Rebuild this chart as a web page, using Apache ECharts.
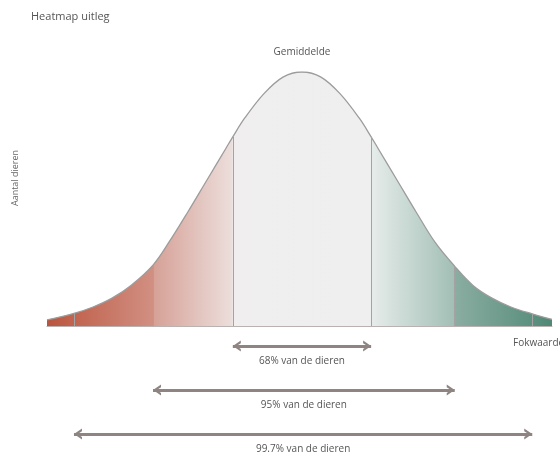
<!DOCTYPE html>
<html>
<head>
<meta charset="utf-8">
<script src="https://cdn.jsdelivr.net/npm/echarts@6/dist/echarts.min.js"></script>
<style>html,body{margin:0;padding:0;background:#fff;}#c{width:560px;height:452px;}</style>
</head>
<body>
<div id="c"></div>
<script>
// Curve samples (Fokwaarde position, relative number of animals, peak = 100)
const curveX = [-3.355, -3.0, -2.75, -2.5, -2.25, -1.96, -1.75, -1.5, -1.25, -1.0, -0.91, -0.75, -0.5, -0.25, 0, 0.25, 0.5, 0.75, 0.91, 1.0, 1.25, 1.5, 1.75, 2.01, 2.25, 2.5, 2.75, 3.03, 3.29];
const curveY = [2.4, 5.0, 7.5, 11, 16, 24, 33, 45, 57.5, 70, 74.5, 82, 91.5, 98, 100, 98, 91.5, 82, 74.5, 70, 57.5, 45, 33, 23.5, 16, 11, 7.5, 4.8, 2.6];
// Vertical band boundaries
const boundaries = [-3.0, -1.96, -0.91, 0.91, 2.01, 3.03];
// Range arrows
const arrowRanges = [[-0.91, 0.91], [-1.96, 2.01], [-3.0, 3.03]];
const arrowLevels = [-7.9, -25.2, -42.5];
const arrowLabels = ['68% van de dieren', '95% van de dieren', '99.7% van de dieren'];
const meanLabel = 'Gemiddelde';
const titleText = 'Heatmap uitleg';
const xName = 'Fokwaarde';
const yName = 'Aantal dieren';

const FONT = "'Open Sans', sans-serif";
const curveData = curveX.map((x, i) => [x, curveY[i]]);
const heightAt = x => curveY[curveX.indexOf(x)];

// chevron with its tip at the centre of the symbol box
const chevron = 'path://M0,10 L5,0 L10,10 L7.6,10 L5,4.6 L2.4,10 Z M5,-10 L5,-10';

const chart = echarts.init(document.getElementById('c'), null, {renderer: 'canvas'});
chart.setOption({
  animation: false,
  backgroundColor: '#fff',
  title: {
    text: titleText, left: 26, top: 6,
    textStyle: {fontFamily: FONT, fontSize: 11, fontWeight: 'normal', color: '#555'}
  },
  grid: {left: 47, right: 8, top: 72, bottom: 4, containLabel: false, outerBoundsMode: 'none'},
  xAxis: {
    type: 'value', min: -3.355, max: 3.29,
    axisLine: {show: true, onZero: true, lineStyle: {color: '#b9b2b0', width: 1}},
    axisTick: {show: false}, axisLabel: {show: false}, splitLine: {show: false},
    name: xName, nameLocation: 'end', nameGap: -39,
    nameTextStyle: {fontFamily: FONT, fontSize: 10, color: '#555', verticalAlign: 'top', padding: [12, 0, 0, 0]}
  },
  yAxis: {
    type: 'value', min: -48, max: 100, show: false
  },
  graphic: [{
    type: 'text', x: 15, y: 178, rotation: Math.PI / 2,
    style: {text: yName, fontFamily: FONT, fontSize: 9, fill: '#666', align: 'center', verticalAlign: 'middle'}
  }],
  series: [{
    type: 'line',
    data: curveData,
    smooth: 0.35,
    symbol: 'none',
    lineStyle: {color: '#9c9c9c', width: 1.3},
    areaStyle: {
      opacity: 1,
      color: new echarts.graphic.LinearGradient(0, 0, 1, 0, [
        {offset: 0, color: '#b9553f'},
        {offset: 0.053, color: '#c1644f'},
        {offset: 0.209, color: '#d18f82'},
        {offset: 0.212, color: '#d6a197'},
        {offset: 0.366, color: '#ecdedb'},
        {offset: 0.369, color: '#f0eeee'},
        {offset: 0.64, color: '#efefef'},
        {offset: 0.643, color: '#e6ecea'},
        {offset: 0.806, color: '#a2bfb5'},
        {offset: 0.809, color: '#8aada1'},
        {offset: 0.96, color: '#5d917f'},
        {offset: 1, color: '#4f8874'}
      ])
    },
    markLine: {
      silent: true, symbol: ['none', 'none'],
      lineStyle: {color: '#a3a3a3', width: 1, type: 'solid'},
      label: {show: false},
      data: boundaries.map(b => [{coord: [b, 0]}, {coord: [b, heightAt(b)]}])
    },
    markPoint: {
      silent: true,
      symbol: 'circle', symbolSize: 1,
      itemStyle: {color: 'rgba(0,0,0,0)'},
      label: {show: true, position: 'top', distance: 14, formatter: meanLabel,
        fontFamily: FONT, fontSize: 10, color: '#555'},
      data: [{coord: [0, 100]}]
    }
  }, {
    type: 'line',
    data: [],
    markLine: {
      silent: true,
      symbol: [chevron, chevron],
      symbolSize: [11, 16],
      lineStyle: {color: '#8e8583', width: 3, type: 'solid', opacity: 1},
      itemStyle: {color: '#8e8583'},
      label: {show: true, position: 'insideMiddleBottom', distance: 10,
        fontFamily: FONT, fontSize: 10, color: '#555'},
      data: arrowRanges.map((r, i) => [
        {coord: [r[0], arrowLevels[i]], name: arrowLabels[i]},
        {coord: [r[1], arrowLevels[i]]}
      ])
    }
  }]
});
</script>
</body>
</html>
